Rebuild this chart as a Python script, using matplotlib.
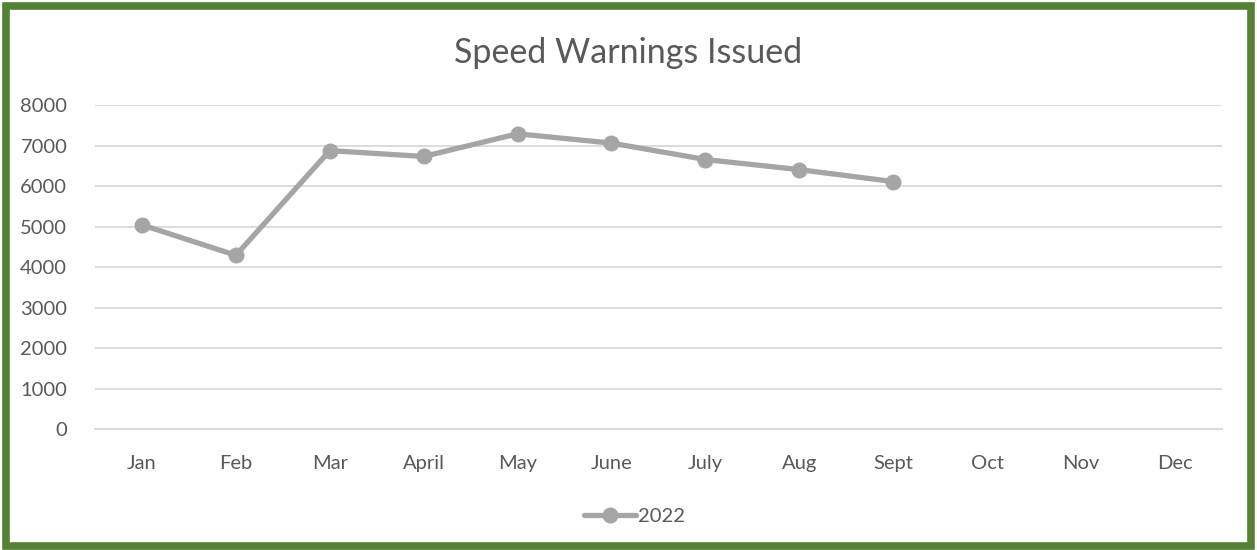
import matplotlib.pyplot as plt
from matplotlib.patches import Rectangle

plt.rcParams["font.family"] = ["Lato", "DejaVu Sans"]

months = ["Jan", "Feb", "Mar", "April", "May", "June", "July", "Aug", "Sept", "Oct", "Nov", "Dec"]
warnings_2022 = [5040, 4290, 6875, 6730, 7290, 7060, 6655, 6405, 6110]
yticks = [0, 1000, 2000, 3000, 4000, 5000, 6000, 7000, 8000]

text_col = "#595959"
grid_col = "#d9d9d9"
line_col = "#a5a5a5"

fig = plt.figure(figsize=(12.57, 5.5), dpi=100)
ax = fig.add_axes([0.0756, 0.22, 0.8964, 0.589])

x = list(range(len(months)))
ax.plot(x[:len(warnings_2022)], warnings_2022, color=line_col, lw=3.8,
        marker="o", markersize=10.5, label="2022", solid_capstyle="round", zorder=3)

ax.set_xlim(-0.5, len(months) - 0.5)
ax.set_ylim(0, 8000)
ax.set_xticks(x)
ax.set_xticklabels(months)
ax.set_yticks(yticks)
ax.yaxis.grid(True, color=grid_col, lw=1.3)
ax.set_axisbelow(True)
for s in ["top", "right", "left"]:
    ax.spines[s].set_visible(False)
ax.spines["bottom"].set_color(grid_col)
ax.spines["bottom"].set_linewidth(1.3)
ax.tick_params(length=0, labelsize=14.5, colors=text_col)
ax.tick_params(axis="x", pad=19)
ax.tick_params(axis="y", pad=20)

fig.suptitle("Speed Warnings Issued", y=0.933, fontsize=24.5, color=text_col)

fig.legend(loc="center", bbox_to_anchor=(0.505, 0.061), frameon=False, fontsize=14.5,
           labelcolor=text_col, handlelength=2.6, handletextpad=0.1)

fig.patches.append(Rectangle((0.0045, 0.007), 0.991, 0.982, transform=fig.transFigure,
                             fill=False, edgecolor="#548235", lw=5.5, zorder=10))

fig.savefig("out.png", dpi=100)
